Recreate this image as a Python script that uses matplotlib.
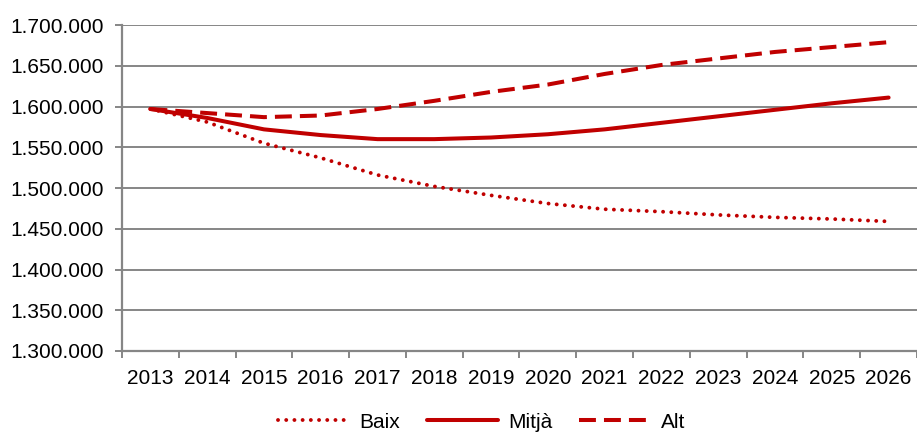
import matplotlib
matplotlib.use("Agg")
from matplotlib import pyplot as plt
from matplotlib.ticker import FuncFormatter, FixedLocator

years = [str(y) for y in range(2013, 2027)]
baix = [1597000, 1581000, 1555000, 1537000, 1516000, 1502000, 1491000,
        1481000, 1474000, 1471000, 1467000, 1464000, 1462000, 1459000]
mitja = [1597000, 1586000, 1572000, 1565000, 1560000, 1560000, 1562000,
         1566000, 1572000, 1580000, 1588000, 1596000, 1604000, 1611000]
alt = [1597000, 1592000, 1587000, 1589000, 1597000, 1607000, 1618000,
       1627000, 1640000, 1651000, 1659000, 1667000, 1673000, 1679000]

red = "#C00000"
grey = "#868686"
plt.rcParams['font.family'] = ['Liberation Sans', 'DejaVu Sans']

fig = plt.figure(figsize=(9.17, 4.32), dpi=100)
ax = fig.add_axes([0.133, 0.1875, 0.867, 0.7545])

x = list(range(len(years)))
ax.plot(x, baix, color=red, lw=2.8, linestyle=(0, (0.01, 2.1)), dash_capstyle='round', label="Baix")
ax.plot(x, mitja, color=red, lw=2.9, solid_capstyle='round', label="Mitjà")
ax.plot(x, alt, color=red, lw=2.9, linestyle=(0, (4.2, 2.0)), label="Alt")

ax.set_xlim(-0.5, len(years) - 0.5)
ax.set_ylim(1300000, 1700000)
ax.set_yticks(range(1300000, 1700001, 50000))
ax.yaxis.set_major_formatter(FuncFormatter(lambda v, p: f"{int(v):,}".replace(",", ".")))
ax.grid(axis='y', color=grey, lw=1.4)
ax.set_axisbelow(True)

ax.set_xticks(x)
ax.set_xticklabels(years)
ax.xaxis.set_minor_locator(FixedLocator([i - 0.5 for i in range(len(years) + 1)]))
ax.tick_params(axis='x', which='major', length=0, pad=13, labelsize=15)
ax.tick_params(axis='x', which='minor', length=5, width=1.4, color=grey)
ax.tick_params(axis='y', length=5, width=1.4, color=grey, pad=8, labelsize=15)

for s in ['top', 'right']:
    ax.spines[s].set_visible(False)
for s in ['left', 'bottom']:
    ax.spines[s].set_color(grey)
    ax.spines[s].set_linewidth(1.6)

fig.legend(loc='center', bbox_to_anchor=(0.525, 1 - 422 / 432), ncol=3, frameon=False,
           fontsize=15, handlelength=3.4, handletextpad=0.5, columnspacing=1.3)

fig.savefig("out.png", dpi=100)
plt.close(fig)
